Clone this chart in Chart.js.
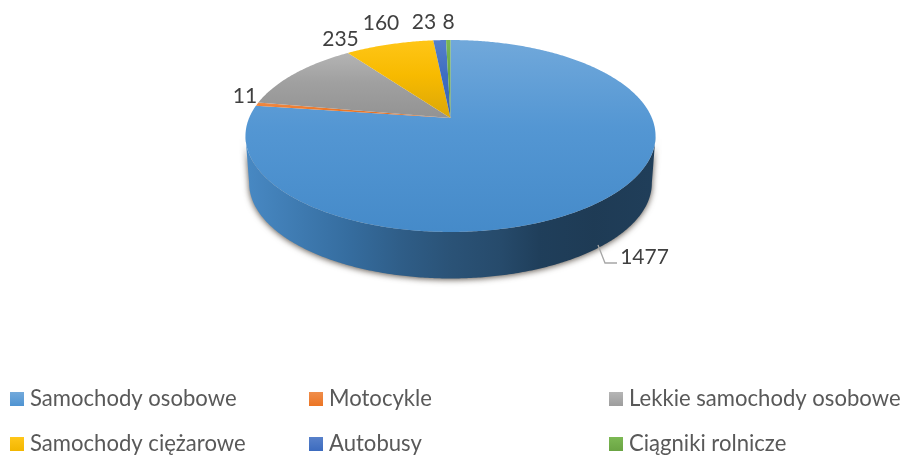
<!DOCTYPE html>
<html><head><meta charset="utf-8">
<style>html,body{margin:0;padding:0;background:#fff}#w{width:903px;height:455px;position:relative}</style>
<script src="https://cdn.jsdelivr.net/npm/chart.js@4"></script>
</head><body><div id="w"><canvas id="c" width="903" height="455"></canvas></div>
<script>
const categories = ["Samochody osobowe","Motocykle","Lekkie samochody osobowe","Samochody ciężarowe","Autobusy","Ciągniki rolnicze"];
const vehicles = [1477,11,235,160,23,8];
const sliceColors = ["#5B9BD5","#ED7D31","#A5A5A5","#FFC000","#4472C4","#70AD47"];

// Tilted-disc projection used to render the flat pie as the original 3D pie
const APEX = {x:450.5,y:118}, K=-0.1875, A=92.6, B=201.4, DEPTH=48, SHRINK=0.982;
const LEGEND_FONT = '22.1px Lato, sans-serif', LABEL_FONT = '21px Lato, sans-serif';
const proj = (t)=>{const c=Math.cos(t),s=Math.sin(t),d=1+K*s;return {x:APEX.x+B*c/d,y:APEX.y+A*s/d};};
const low = (t)=>{const p=proj(t);return {x:APEX.x+(p.x-APEX.x)*SHRINK,y:p.y+DEPTH-1.5*(Math.sin(t)+1)/2};};
// scale a colour's HSL lightness and saturation, keeping its hue
const shade=(hex,f,sf=1)=>{const n=parseInt(hex.slice(1),16),r=(n>>16)/255,g=((n>>8)&255)/255,b=(n&255)/255;
  const mx=Math.max(r,g,b),mn=Math.min(r,g,b),l=(mx+mn)/2,d=mx-mn;let h=0,s=0;
  if(d>0){s=d/(1-Math.abs(2*l-1));h=mx===r?((g-b)/d+6)%6:mx===g?(b-r)/d+2:(r-g)/d+4;}
  return `hsl(${h*60},${s*100*sf}%,${Math.min(100,l*f*100)}%)`;};
const sweep=(a0,a1,fn)=>{const n=Math.max(2,Math.ceil(Math.abs(a1-a0)/0.01));for(let i=0;i<=n;i++)fn(a0+(a1-a0)*i/n,i);};

const layout3d = {
  id:'layout3d',
  beforeDatasetDraw(chart,args){
    const ctx=chart.ctx, arcs=args.meta.data, t0=Math.asin(-K), t1=Math.PI-t0;
    // side wall
    arcs.forEach((arc,i)=>{
      const a0=Math.max(arc.startAngle,t0), a1=Math.min(arc.endAngle,t1);
      if(a1<=a0) return;
      const g=ctx.createLinearGradient(APEX.x-205,0,APEX.x+205,0), c=sliceColors[i];
      g.addColorStop(0,shade(c,.88,.86));
      g.addColorStop(.25,shade(c,.70,.84));
      g.addColorStop(.38,shade(c,.60,.82));
      g.addColorStop(.5,shade(c,.53,.80));
      g.addColorStop(.62,shade(c,.48,.80));
      g.addColorStop(.72,shade(c,.40,.82));
      g.addColorStop(.85,shade(c,.38,.80));
      g.addColorStop(1,shade(c,.40,.80));
      ctx.save();
      ctx.shadowColor='rgba(50,40,30,.8)';ctx.shadowBlur=6;ctx.shadowOffsetY=1;
      ctx.beginPath();
      sweep(a0,a1,(t,k)=>{const p=proj(t);k?ctx.lineTo(p.x,p.y):ctx.moveTo(p.x,p.y);});
      sweep(a1,a0,(t)=>{const p=low(t);ctx.lineTo(p.x,p.y);});
      ctx.closePath();ctx.fillStyle=g;ctx.fill();ctx.restore();
    });
    // top face
    arcs.forEach((arc,i)=>{
      let ymin=APEX.y,ymax=APEX.y;
      sweep(arc.startAngle,arc.endAngle,(t)=>{const p=proj(t);ymin=Math.min(ymin,p.y);ymax=Math.max(ymax,p.y);});
      const g=ctx.createLinearGradient(0,ymin,0,ymax),c=sliceColors[i];
      g.addColorStop(0,shade(c,1.09));
      g.addColorStop(.45,shade(c,.97,1));
      g.addColorStop(1,shade(c,.89,.93));
      ctx.beginPath();ctx.moveTo(APEX.x,APEX.y);
      sweep(arc.startAngle,arc.endAngle,(t)=>{const p=proj(t);ctx.lineTo(p.x,p.y);});
      ctx.closePath();ctx.fillStyle=g;ctx.fill();
    });
    return false;
  },
  afterDraw(chart){
    const ctx=chart.ctx, arcs=chart.getDatasetMeta(0).data, vals=chart.data.datasets[0].data;
    const off=this.labelOffsets;
    ctx.save();
    ctx.font=LABEL_FONT;ctx.textAlign='center';ctx.textBaseline='middle';ctx.fillStyle='#404040';
    arcs.forEach((arc,i)=>{
      const p=proj((arc.startAngle+arc.endAngle)/2);
      ctx.fillText(String(vals[i]),p.x+off[i][0],p.y+off[i][1]);
    });
    // leader line of the largest slice
    const q=low((arcs[0].startAngle+arcs[0].endAngle)/2);
    ctx.strokeStyle='#a6a6a6';ctx.lineWidth=1.3;ctx.beginPath();
    ctx.moveTo(q.x+this.leader[0][0],q.y+this.leader[0][1]);
    ctx.lineTo(q.x+this.leader[1][0],q.y+this.leader[1][1]);
    ctx.lineTo(q.x+this.leader[2][0],q.y+this.leader[2][1]);
    ctx.stroke();
    // legend
    ctx.font=LEGEND_FONT;ctx.textAlign='left';ctx.textBaseline='alphabetic';
    chart.data.labels.forEach((t,i)=>{
      const x=this.legendX[i%3], y=this.legendY[Math.floor(i/3)], c=sliceColors[i];
      const g=ctx.createLinearGradient(0,y,0,y+14);
      g.addColorStop(0,shade(c,1.1));g.addColorStop(1,shade(c,.95));
      ctx.fillStyle=g;ctx.fillRect(x,y,14,14);
      ctx.fillStyle='#595959';ctx.fillText(t,x+20,y+14);
    });
    ctx.restore();
  },
  labelOffsets:[[0,0],[0,0],[0,0],[0,0],[0,0],[0,0]],
  leader:[[0,0],[0,0],[0,0]],
  legendX:[10,309,609],
  legendY:[392,437]
};
// label placement relative to the projected mid-point of each slice's rim
(function(){
  const total=vehicles.reduce((a,b)=>a+b,0); let cum=0;
  const mids=vehicles.map(v=>{const m=-Math.PI/2+(cum+v/2)/total*2*Math.PI;cum+=v;return proj(m);});
  const targets=[[644.5,257],[245,96],[340.5,39],[381,23],[424,22],[448.5,22]];
  layout3d.labelOffsets=targets.map((t,i)=>[t[0]-mids[i].x,t[1]-mids[i].y]);
  const m0=-Math.PI/2+(vehicles[0]/2)/total*2*Math.PI, q=low(m0);
  layout3d.leader=[[598,245],[605,263],[617,263]].map(t=>[t[0]-q.x,t[1]-q.y]);
})();

new Chart(document.getElementById('c'),{
  type:'pie',
  data:{labels:categories,datasets:[{data:vehicles,backgroundColor:sliceColors,borderWidth:0}]},
  options:{responsive:false,animation:false,events:[],
    plugins:{legend:{display:false},tooltip:{enabled:false}}},
  plugins:[layout3d]
});
</script></body></html>
